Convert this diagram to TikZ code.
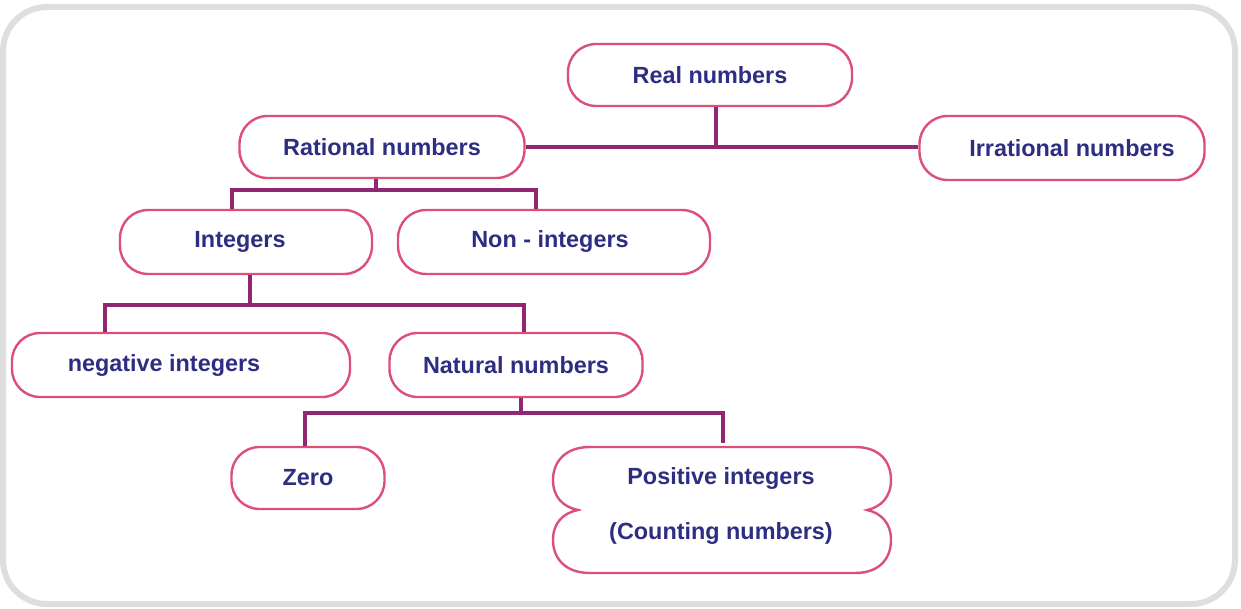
\documentclass[tikz,border=0pt]{standalone}
\usepackage{fontspec}
\setmainfont{Liberation Sans}
\definecolor{txtcol}{RGB}{45,45,130}
\definecolor{boxcol}{RGB}{220,80,120}
\definecolor{linecol}{RGB}{145,38,115}
\definecolor{framecol}{RGB}{222,222,222}
\begin{document}
\begin{tikzpicture}[x=0.5pt,y=-0.5pt,
  lbl/.style={font=\fontsize{11.7pt}{14pt}\selectfont\bfseries, text=txtcol},
  pill/.style={lbl, draw=boxcol, line width=1.2pt, fill=white, rounded corners=14pt, inner sep=0pt},
  conn/.style={draw=linecol, line width=2.2pt}]
\useasboundingbox (0,0) rectangle (1241,609);
% frame
\draw[framecol, line width=3pt, fill=white, rounded corners=22pt] (3,7) rectangle (1235,604);
% nodes
\node[pill, minimum width=142pt, minimum height=31pt] (real) at (710,75) {Real numbers};
\node[pill, minimum width=142.5pt, minimum height=31pt] (rat) at (382,147) {Rational numbers};
\node[pill, minimum width=142.5pt, minimum height=32pt] (irr) at (1062,148) {\kern10pt Irrational numbers};
\node[pill, minimum width=126pt, minimum height=32pt] (int) at (246,242) {Integers\kern6pt};
\node[pill, minimum width=156pt, minimum height=32pt] (nonint) at (554,242) {Non - integers\kern4pt};
\node[pill, minimum width=169pt, minimum height=32pt] (neg) at (181,365) {negative integers\kern17pt};
\node[pill, minimum width=126.5pt, minimum height=32pt] (nat) at (516,365) {Natural numbers};
\node[pill, minimum width=76.5pt, minimum height=31pt] (zero) at (308,478) {Zero};
% positive integers (wavy-sided box)
\draw[draw=boxcol, line width=1.2pt, fill=white]
  (855,447) -- (590,447)
  .. controls (565,447) and (553,462) .. (553,480)
  .. controls (553,497) and (563,507) .. (578,510)
  .. controls (563,513) and (553,523) .. (553,540)
  .. controls (553,558) and (565,573) .. (590,573)
  -- (855,573)
  .. controls (880,573) and (891,558) .. (891,540)
  .. controls (891,523) and (881,513) .. (867,510)
  .. controls (881,507) and (891,497) .. (891,480)
  .. controls (891,462) and (880,447) .. (855,447) -- cycle;
\node[lbl, align=center, minimum width=169pt, minimum height=63pt, inner sep=0pt] (pos) at (721,506)
  {Positive integers\\[13.5pt](Counting numbers)};
% connectors
\draw[conn] (rat.east) -- (rat.east -| irr.west);
\draw[conn] ([xshift=3pt]real.south) -- ([xshift=3pt]real.south |- rat.east);
\coordinate (b1) at (376,190);
\draw[conn] ([xshift=-3pt]rat.south) -- (b1);
\draw[conn] ([xshift=-7pt]int.north) |- (b1) -| ([xshift=-9pt]nonint.north);
\coordinate (b2) at (250,305);
\draw[conn] ([xshift=2pt]int.south) -- (b2);
\draw[conn] ([xshift=-38pt]neg.north) |- (b2) -| ([xshift=4pt]nat.north);
\coordinate (b3) at (521,413);
\draw[conn] ([xshift=2.5pt]nat.south) -- (b3);
\draw[conn] ([xshift=-1.5pt]zero.north) |- (b3) -| ([xshift=1pt]pos.north);
\end{tikzpicture}
\end{document}
